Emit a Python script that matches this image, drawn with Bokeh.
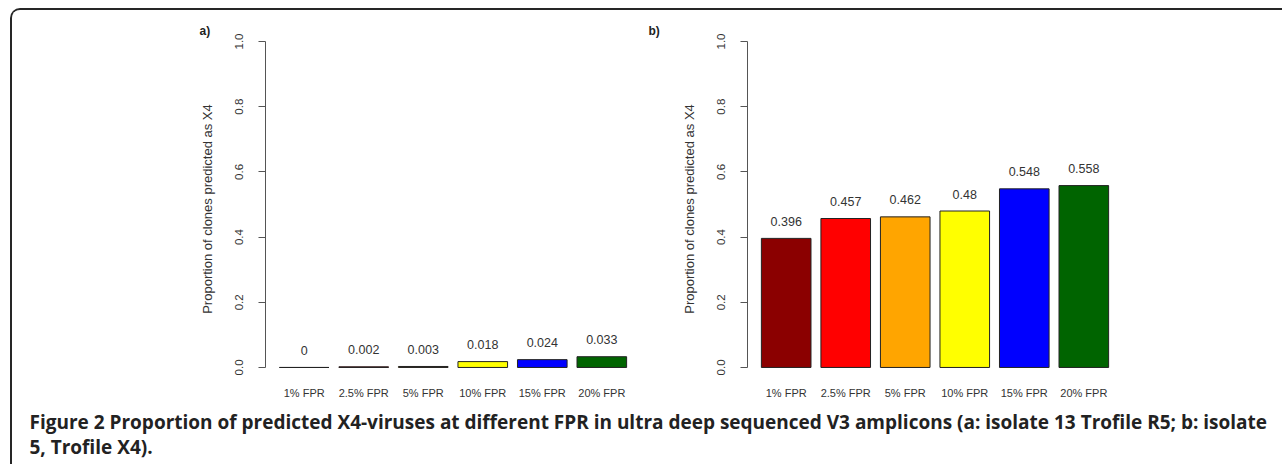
from bokeh.plotting import figure
from bokeh.models import Range1d, FixedTicker, Label, ColumnDataSource, PrintfTickFormatter
from bokeh.layouts import column, row
from bokeh.embed import file_html
from bokeh.resources import INLINE
from bokeh.core.properties import value

# ---- data ----
categories = ["1% FPR", "2.5% FPR", "5% FPR", "10% FPR", "15% FPR", "20% FPR"]
values_a = [0.0, 0.002, 0.003, 0.018, 0.024, 0.033]
values_b = [0.396, 0.457, 0.462, 0.48, 0.548, 0.558]
labels_a = ["0", "0.002", "0.003", "0.018", "0.024", "0.033"]
labels_b = ["0.396", "0.457", "0.462", "0.48", "0.548", "0.558"]
bar_colors = ["#8B0000", "#FF0000", "#FFA500", "#FFFF00", "#0000FF", "#006400"]
y_ticks = [0.0, 0.2, 0.4, 0.6, 0.8, 1.0]
y_title = "Proportion of clones predicted as X4"
caption_line1 = ("Figure 2 Proportion of predicted X4-viruses at different FPR in ultra deep "
                 "sequenced V3 amplicons (a: isolate 13 Trofile R5; b: isolate")
caption_line2 = "5, Trofile X4)."

FONT = "Liberation Sans"
TXT = "#333333"
AX = "#555555"
FIG_H = 398


def panel(vals, labs, tag, width, left, right, tag_offset):
    centers = [round(0.7 + 1.2 * i, 4) for i in range(len(categories))]
    p = figure(width=width, height=FIG_H,
               x_range=Range1d(-0.08, 7.48), y_range=Range1d(-0.04, 1.0123),
               output_backend="svg", toolbar_location=None,
               min_border_left=left, min_border_right=right,
               min_border_top=27, min_border_bottom=28)
    p.outline_line_color = None
    p.grid.visible = False
    p.background_fill_color = "white"
    p.border_fill_color = "white"

    p.title.text = tag
    p.title.align = "left"
    p.title.offset = tag_offset
    p.title.standoff = 0
    p.title.text_font = FONT
    p.title.text_font_size = "12px"
    p.title.text_font_style = "bold"
    p.title.text_color = "#222222"

    src = ColumnDataSource(dict(x=centers, top=vals, color=bar_colors, lab=labs))
    p.vbar(x="x", top="top", bottom=0, width=1.0, fill_color="color",
           line_color="#222222", line_width=1, source=src)
    p.text(x="x", y="top", text="lab", y_offset=-17, text_align="center",
           text_baseline="middle", text_font=value(FONT), text_font_size="12.5px",
           text_color=TXT, source=src)

    yax = p.yaxis[0]
    yax.ticker = FixedTicker(ticks=y_ticks)
    yax.formatter = PrintfTickFormatter(format="%.1f")
    yax.bounds = (0, 1)
    yax.major_label_orientation = "parallel"
    yax.major_tick_out = 7
    yax.major_tick_in = 0
    yax.minor_tick_line_color = None
    yax.axis_line_color = AX
    yax.major_tick_line_color = AX
    yax.major_label_standoff = 15
    yax.major_label_text_font = FONT
    yax.major_label_text_font_size = "11.5px"
    yax.major_label_text_color = TXT
    yax.axis_label = y_title
    yax.axis_label_text_font = FONT
    yax.axis_label_text_font_size = "13px"
    yax.axis_label_text_font_style = "normal"
    yax.axis_label_text_color = TXT
    yax.axis_label_standoff = 18

    xax = p.xaxis[0]
    xax.ticker = FixedTicker(ticks=centers)
    xax.major_label_overrides = {c: n for c, n in zip(centers, categories)}
    xax.axis_line_color = None
    xax.major_tick_line_color = None
    xax.minor_tick_line_color = None
    xax.major_tick_out = 0
    xax.major_tick_in = 0
    xax.major_label_standoff = 6
    xax.major_label_text_font = FONT
    xax.major_label_text_font_size = "11px"
    xax.major_label_text_color = TXT
    return p


pa = panel(values_a, labels_a, "a)", 632, 253, 4, -66)
pb = panel(values_b, labels_b, "b)", 638, 103, 160, -99)

CAP_H = 56
cap = figure(width=1270, height=CAP_H, x_range=Range1d(0, 1270), y_range=Range1d(0, CAP_H),
             output_backend="svg", toolbar_location=None, min_border=0,
             x_axis_location=None, y_axis_location=None)
cap.outline_line_color = None
cap.grid.visible = False
cap.add_layout(Label(x=17, y=CAP_H - 13, x_units="screen", y_units="screen", text=caption_line1,
                     text_font="Open Sans", text_font_size="19px", text_font_style="bold",
                     text_baseline="middle", text_color="#222222"))
cap.add_layout(Label(x=17, y=CAP_H - 38, x_units="screen", y_units="screen", text=caption_line2,
                     text_font="Open Sans", text_font_size="19px", text_font_style="bold",
                     text_baseline="middle", text_color="#222222"))

layout = column(row(pa, pb), cap,
                styles={"border-top": "2px solid #262626", "border-left": "2px solid #262626",
                        "border-top-left-radius": "10px", "overflow": "hidden",
                        "margin-left": "10px", "margin-top": "8px"})

open("out.html", "w").write(file_html(layout, INLINE))
